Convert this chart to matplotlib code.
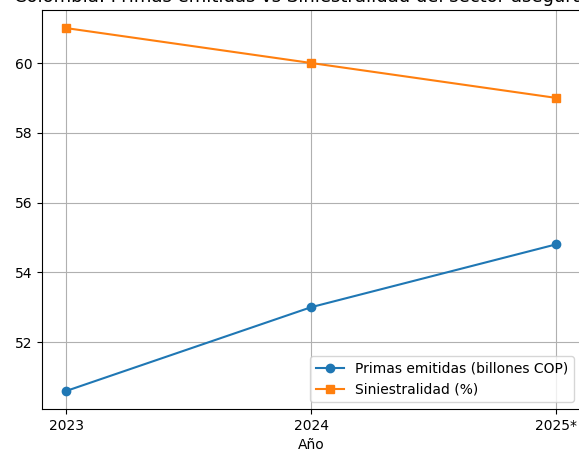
import matplotlib
matplotlib.use("Agg")
import matplotlib.pyplot as plt

years = ["2023", "2024", "2025*"]
primas = [50.6, 53.0, 54.8]
siniestralidad = [61.0, 60.0, 59.0]

W, H = 579, 453
fig = plt.figure(figsize=(W / 100, H / 100), dpi=100)
left, right, top, bottom = 42, 580.5, 10, 409
ax = fig.add_axes([left / W, (H - bottom) / H, (right - left) / W, (bottom - top) / H])

ax.plot(years, primas, marker="o", label="Primas emitidas (billones COP)")
ax.plot(years, siniestralidad, marker="s", label="Siniestralidad (%)")
ax.set_xlabel("Año")
ax.grid(True)
ax.legend(loc="lower right")

fig.text(14 / W, 1 - 2.3 / H, "Colombia: Primas emitidas vs Siniestralidad del sector asegurador",
         fontsize=13, ha="left", va="baseline")

fig.savefig("out.png", dpi=100)
